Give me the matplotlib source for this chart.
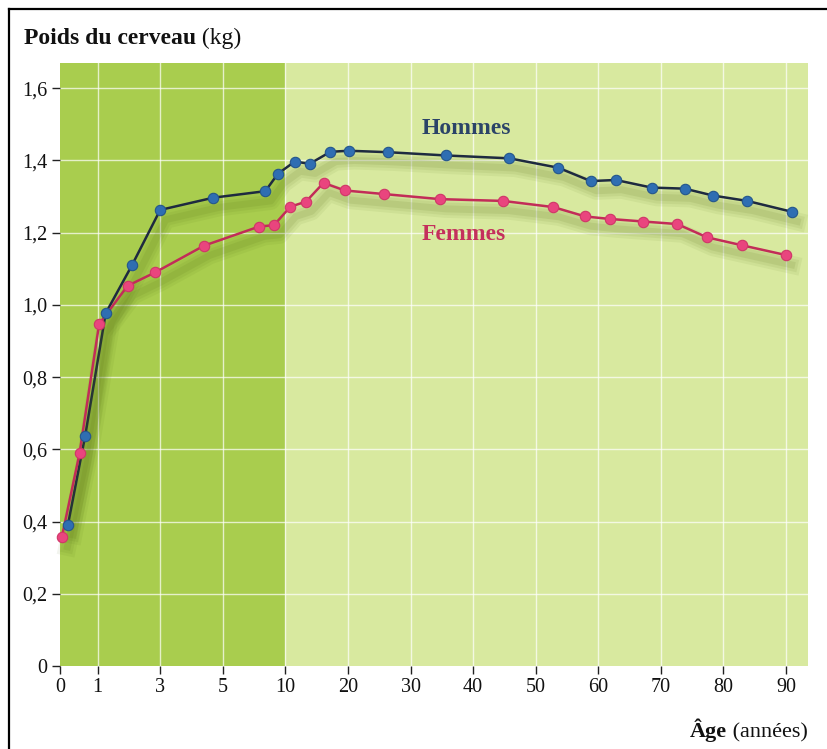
import numpy as np
import matplotlib
matplotlib.use("Agg")
import matplotlib.pyplot as plt
import matplotlib.patheffects as pe
from matplotlib.lines import Line2D

# ---- data ----
ages_hommes = [0.21, 0.67, 1.26, 2.1, 3.0, 4.7, 8.4, 9.4, 11.5, 13.9, 17.2, 20.1,
               26.4, 35.6, 45.8, 53.6, 58.8, 62.8, 68.5, 73.8, 78.3, 83.8, 90.9]
poids_hommes = [0.39, 0.637, 0.977, 1.11, 1.263, 1.297, 1.315, 1.363, 1.397, 1.391,
                1.424, 1.427, 1.423, 1.414, 1.406, 1.380, 1.343, 1.346, 1.325,
                1.322, 1.303, 1.288, 1.258]
ages_femmes = [0.05, 0.52, 1.05, 1.96, 2.84, 4.4, 7.9, 9.1, 10.8, 13.3, 16.1, 19.5,
               25.8, 34.7, 44.8, 52.8, 57.9, 61.9, 67.2, 72.6, 77.4, 83.0, 90.0]
poids_femmes = [0.357, 0.589, 0.947, 1.053, 1.090, 1.164, 1.217, 1.221, 1.272, 1.286,
                1.338, 1.317, 1.307, 1.293, 1.288, 1.271, 1.245, 1.238, 1.231,
                1.224, 1.187, 1.165, 1.138]
x_ticks = [0, 1, 3, 5, 10, 20, 30, 40, 50, 60, 70, 80, 90]
x_ticklabels = ["0", "1", "3", "5", "10", "20", "30", "40", "50", "60", "70", "80", "90"]
y_ticks = [0, 0.2, 0.4, 0.6, 0.8, 1.0, 1.2, 1.4, 1.6]
y_ticklabels = ["0", "0,2", "0,4", "0,6", "0,8", "1,0", "1,2", "1,4", "1,6"]

# piecewise-linear age axis
scale_ages = [0, 1, 3, 5, 10, 20, 30, 40, 50, 60, 70, 80, 90, 100]
scale_pos = [0, 0.6, 1.6, 2.6, 3.6, 4.6, 5.6, 6.6, 7.6, 8.6, 9.6, 10.6, 11.6, 12.6]

def fwd(x):
    return np.interp(x, scale_ages, scale_pos)

def inv(p):
    return np.interp(p, scale_pos, scale_ages)

SERIF = ["Liberation Serif", "DejaVu Serif"]
plt.rcParams["font.family"] = SERIF

fig = plt.figure(figsize=(8.27, 7.49), dpi=100)
ax = fig.add_axes([60/827, 1-666/749, (808-60)/827, (666-63)/749])
ax.set_xscale("function", functions=(fwd, inv))
ax.set_xlim(0, 93.5)
ax.set_ylim(0, 1.67)

dark = "#a9cd4e"
light = "#d8e99f"
ax.set_facecolor(light)
ax.axvspan(0, 10, color=dark, zorder=0, lw=0)

for s in ax.spines.values():
    s.set_visible(False)

ax.set_xticks(x_ticks)
ax.set_xticklabels(x_ticklabels)
ax.set_yticks(y_ticks)
ax.set_yticklabels(y_ticklabels)
ax.tick_params(axis="both", length=6, width=1.0, color="#222222",
               labelsize=14.5, labelcolor="#111111")
ax.tick_params(axis="x", pad=3)
ax.tick_params(axis="y", pad=3)

# grid
for xt in x_ticks[1:]:
    ax.axvline(xt, color="white", lw=1.0, alpha=0.7, zorder=1)
for yt in y_ticks[1:]:
    ax.axhline(yt, color="white", lw=1.0, alpha=0.7, zorder=1)

shadow = [pe.SimpleLineShadow(offset=(4, -7), shadow_color="#4f6a12", alpha=0.07, linewidth=13),
          pe.SimpleLineShadow(offset=(4, -7), shadow_color="#4f6a12", alpha=0.08, linewidth=9),
          pe.SimpleLineShadow(offset=(4, -7), shadow_color="#4f6a12", alpha=0.10, linewidth=5),
          pe.Normal()]

ax.plot(ages_hommes, poids_hommes, color="#1e2a40", lw=1.8, zorder=3,
        path_effects=shadow, clip_on=False)
ax.plot(ages_hommes, poids_hommes, ls="none", marker="o", ms=7.5,
        mfc="#2f6eb2", mec="#24568c", mew=0.8, zorder=4, clip_on=False)
ax.plot(ages_femmes, poids_femmes, color="#c22c58", lw=1.8, zorder=3,
        path_effects=shadow, clip_on=False)
ax.plot(ages_femmes, poids_femmes, ls="none", marker="o", ms=7.5,
        mfc="#e9457e", mec="#d03668", mew=0.8, zorder=4, clip_on=False)

ax.text(38.9, 1.474, "Hommes", color="#2b4468", fontsize=17, fontweight="bold",
        ha="center", va="baseline", zorder=5)
ax.text(38.5, 1.18, "Femmes", color="#c4305c", fontsize=17, fontweight="bold",
        ha="center", va="baseline", zorder=5)

# title and axis label (bold + regular parts)
renderer = fig.canvas.get_renderer()

def mixed(x_px, base_px, bold, regular, size):
    t1 = fig.text(x_px/827, 1-base_px/749, bold, fontsize=size, fontweight="bold",
                  ha="left", va="baseline", color="#111111")
    bb = t1.get_window_extent(renderer=renderer)
    fig.text(bb.x1/827, 1-base_px/749, " " + regular, fontsize=size,
             ha="left", va="baseline", color="#111111")

mixed(24, 44, "Poids du cerveau", "(kg)", 17)
mixed(690, 737, "Âge", "(années)", 16)

# page frame
fig.add_artist(Line2D([9/827, 1.0], [1-9/749, 1-9/749], transform=fig.transFigure,
                      color="black", lw=1.6))
fig.add_artist(Line2D([9/827, 9/827], [1-9/749, 0.0], transform=fig.transFigure,
                      color="black", lw=1.6))

fig.savefig("out.png", dpi=100, facecolor="white")
